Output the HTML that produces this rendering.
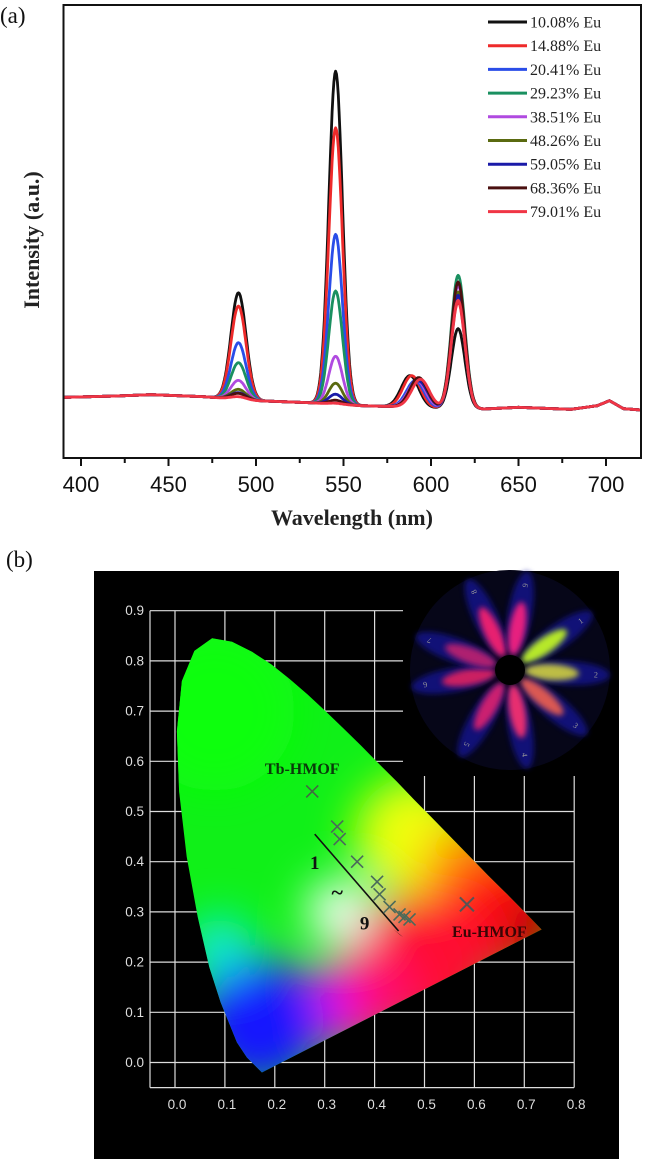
<!DOCTYPE html>
<html><head><meta charset="utf-8"><style>
html,body{margin:0;padding:0;background:#fff;width:648px;height:1159px;overflow:hidden}
svg{position:absolute;left:0;top:0}
</style></head><body>
<svg id="s" width="648" height="1159" xmlns="http://www.w3.org/2000/svg">
<defs>
<clipPath id="hs"><path id="hsp" d=""/></clipPath>
<filter id="bl" x="-50%" y="-50%" width="200%" height="200%"><feGaussianBlur stdDeviation="22"/></filter>
<filter id="bl2" x="-50%" y="-50%" width="200%" height="200%"><feGaussianBlur stdDeviation="3"/></filter>
</defs>
<text x="0" y="23" font-family="Liberation Serif, serif" font-size="23" fill="#111">(a)</text>
<g id="topg"></g>
<text x="6" y="567" font-family="Liberation Serif, serif" font-size="23" fill="#111">(b)</text>
<rect x="94" y="571" width="525" height="588" fill="#000"/>
<g id="botg"></g>
</svg>
<script>
const NS='http://www.w3.org/2000/svg';
function mk(p,t,a){const e=document.createElementNS(NS,t);for(const k in a)e.setAttribute(k,a[k]);p.appendChild(e);return e;}
// ---- Panel (a) data ----
const labels=['10.08% Eu','14.88% Eu','20.41% Eu','29.23% Eu','38.51% Eu','48.26% Eu','59.05% Eu','68.36% Eu','79.01% Eu'];
const colors=['#111111','#ee2a2a','#2a4de8','#1a9060','#b04ae0','#5a6a10','#1a1aa8','#4a1010','#f03545'];
const peak490=[32,28,17,11,5.7,3,2,1.8,0.8];
const peak545=[100,83,51,34,14.4,6.3,3,1.2,0.3];
const peak590=[9.5,9.5,8,8,8,8,8,9,8.5];
const center590=[588,589,591,592,592,593,593,593,594];
const peak615=[24,32,33,40,37,35,34,38,32.5];
const baseWl=[390,420,440,470,500,530,560,580,600,630,650,680,695,702,710,720];
const baseVal=[2,2.4,2.8,2.2,1,0.4,-0.5,-0.8,-1.2,-1.5,-1,-1.6,-0.5,1,-1.4,-1.8];
const xTicks=[400,450,500,550,600,650,700];
const X0=63.5,X1=641,Y0=5,Y1=458;
const xs=w=>X0+(w-390)*(X1-X0)/330;
const ys=v=>404-v*3.33;
const topG=document.getElementById('topg');
function base(w){for(let i=0;i<baseWl.length-1;i++){if(w<=baseWl[i+1]){const t=(w-baseWl[i])/(baseWl[i+1]-baseWl[i]);return baseVal[i]+t*(baseVal[i+1]-baseVal[i]);}}return baseVal[baseVal.length-1];}
const gs=(w,c,s)=>Math.exp(-0.5*((w-c)/s)**2);
for(let k=0;k<labels.length;k++){
  let d='';
  for(let w=390;w<=720;w+=0.5){
    const v=base(w)+peak490[k]*gs(w,490,4.3)+peak545[k]*gs(w,545.5,3.9)+peak590[k]*gs(w,center590[k],5)+peak615[k]*gs(w,615.5,3.9);
    d+=(d?'L':'M')+xs(w).toFixed(1)+' '+ys(v).toFixed(1);
  }
  const p=mk(topG,'path',{d:d,fill:'none',stroke:colors[k],'stroke-width':2.8,'stroke-linejoin':'round'});
  
  
}
const box=mk(topG,'rect',{x:X0,y:Y0,width:X1-X0,height:Y1-Y0,fill:'none',stroke:'#111','stroke-width':2});


for(let w=400;w<=700;w+=25){
  const tk=mk(topG,'line',{x1:xs(w),x2:xs(w),y1:Y1,y2:Y1+(w%50?5:8),stroke:'#111','stroke-width':2});
  
  
}
xTicks.forEach(w=>{
  const t=mk(topG,'text',{x:xs(w),y:492,'text-anchor':'middle','font-family':'Liberation Sans, sans-serif','font-size':22,fill:'#111'});
  t.textContent=w;
  
  
});
let tt=mk(topG,'text',{x:352,y:525,'text-anchor':'middle','font-family':'Liberation Serif, serif','font-size':22,'font-weight':'bold',fill:'#222'});
tt.textContent='Wavelength (nm)';


tt=mk(topG,'text',{x:0,y:0,'text-anchor':'middle','font-family':'Liberation Serif, serif','font-size':22,'font-weight':'bold',fill:'#222',transform:'translate(39,240) rotate(-90)'});
tt.textContent='Intensity (a.u.)';


for(let k=0;k<labels.length;k++){
  const y=22+k*23.7;
  const l=mk(topG,'line',{x1:488,x2:527,y1:y,y2:y,stroke:colors[k],'stroke-width':3});
  
  
  const tx=mk(topG,'text',{x:530,y:y+5.5,'font-family':'Liberation Serif, serif','font-size':16,fill:'#222'});
  tx.textContent=labels[k];
  
  
}
// ---- Panel (b) data ----
const gridX=[0.0,0.1,0.2,0.3,0.4,0.5,0.6,0.7,0.8];
const gridY=[0.0,0.1,0.2,0.3,0.4,0.5,0.6,0.7,0.8,0.9];
const locusX=[0.1741,0.144,0.124,0.0913,0.0687,0.0454,0.0235,0.0082,0.0039,0.0139,0.0389,0.0743,0.1142,0.1547,0.1929,0.2296,0.2658,0.3016,0.3373,0.3731,0.4087,0.4441,0.4788,0.5125,0.5448,0.5752,0.6029,0.627,0.6482,0.6658,0.6915,0.7347];
const locusY=[-0.02,0.01,0.04,0.12,0.19,0.29,0.41,0.54,0.66,0.76,0.82,0.845,0.838,0.818,0.793,0.764,0.733,0.70,0.666,0.631,0.595,0.56,0.524,0.49,0.457,0.426,0.398,0.373,0.352,0.335,0.309,0.265];
const ptX=[0.325,0.33,0.365,0.405,0.41,0.43,0.45,0.46,0.47];
const ptY=[0.47,0.445,0.40,0.36,0.335,0.31,0.295,0.29,0.285];
const tbPt=[0.275,0.54], euPt=[0.585,0.315];
const cx=v=>175+v*499;
const cy=v=>1062.5-v*502;
const botG=document.getElementById('botg');
let hd='';
for(let i=0;i<locusX.length;i++) hd+=(i?'L':'M')+cx(locusX[i]).toFixed(1)+' '+cy(locusY[i]).toFixed(1);
document.getElementById('hsp').setAttribute('d',hd+'Z');
gridY.forEach(v=>{
  const x2=v>=0.6?403:574;
  const l=mk(botG,'line',{x1:150,x2:x2,y1:cy(v),y2:cy(v),stroke:'#ddd','stroke-width':1.2});
  
  
  const tx=mk(botG,'text',{x:144,y:cy(v)+4.5,'text-anchor':'end','font-family':'Liberation Sans, sans-serif','font-size':13.5,fill:'#ddd'});
  tx.textContent=v.toFixed(1);
  
  
});
mk(botG,'line',{x1:150,x2:574,y1:cy(-0.05),y2:cy(-0.05),stroke:'#ddd','stroke-width':1.2});
mk(botG,'line',{x1:150,x2:150,y1:cy(0.9),y2:cy(-0.05),stroke:'#ddd','stroke-width':1.2});
gridX.forEach(v=>{
  const y1=v>=0.5?776:cy(0.9);
  const l=mk(botG,'line',{x1:cx(v),x2:cx(v),y1:y1,y2:cy(-0.05),stroke:'#ddd','stroke-width':1.2});
  
  
  const tx=mk(botG,'text',{x:cx(v)+2,y:1109,'text-anchor':'middle','font-family':'Liberation Sans, sans-serif','font-size':13.5,fill:'#ddd'});
  tx.textContent=v.toFixed(1);
  
  
});
const hg=mk(botG,'g',{'clip-path':'url(#hs)'});


mk(hg,'rect',{x:150,y:600,width:450,height:480,fill:'#10f018'});
const g2=mk(hg,'g',{filter:'url(#bl)'});
[[0.48,0.45,60,'#f0ff10'],[0.6,0.38,50,'#ff9000'],[0.66,0.3,60,'#ff1010'],[0.5,0.2,70,'#ff0a30'],[0.38,0.13,50,'#ff1070'],[0.29,0.11,35,'#e010ff'],[0.17,0.08,65,'#1818ff'],[0.09,0.23,30,'#10e8f0'],[0.33,0.3,32,'#ffffff'],[0.72,0.27,25,'#a00000'],[0.08,0.7,80,'#10ff10']].forEach(b=>{
  mk(g2,'circle',{cx:cx(b[0]),cy:cy(b[1]),r:b[2],fill:b[3]});
});
const ph=mk(botG,'g',{});


mk(ph,'circle',{cx:510,cy:670,r:100,fill:'#060618'});
const petals=[[-35,'#c8ff20'],[3,'#d0d040'],[40,'#f06050'],[80,'#ff3070'],[120,'#e02070'],[170,'#e02060'],[-160,'#c02070'],[-115,'#ff2070'],[-80,'#ff2080']];
petals.forEach((p,i)=>{
  const gg=mk(ph,'g',{transform:'translate(510 670) rotate('+p[0]+')'});
  mk(gg,'ellipse',{cx:58,cy:0,rx:42,ry:12,fill:'#1818a0',opacity:0.7,filter:'url(#bl2)'});
  mk(gg,'ellipse',{cx:42,cy:0,rx:27,ry:8,fill:p[1],opacity:0.9,filter:'url(#bl2)'});
  const n=mk(gg,'text',{x:84,y:3,'font-family':'Liberation Serif, serif','font-size':8,fill:'#999'});
  n.textContent=String(i+1);
});
mk(ph,'circle',{cx:510,cy:670,r:15,fill:'#000'});
const ar=mk(botG,'line',{x1:cx(0.28),y1:cy(0.455),x2:cx(0.448),y2:cy(0.262),stroke:'#111','stroke-width':1.6});


const ah=mk(botG,'polygon',{points:[cx(0.457),cy(0.25),cx(0.447)-5,cy(0.262)-2,cx(0.447)+2,cy(0.262)+4].join(' '),fill:'#111'});


function cross(x,y,s,c,w,nm){
  const gg=mk(botG,'g',{stroke:c,'stroke-width':w});
  
  
  mk(gg,'line',{x1:cx(x)-s,y1:cy(y)-s,x2:cx(x)+s,y2:cy(y)+s});
  mk(gg,'line',{x1:cx(x)-s,y1:cy(y)+s,x2:cx(x)+s,y2:cy(y)-s});
}
cross(tbPt[0],tbPt[1],6,'#446644',1.6,'tb-hmof-point');
for(let i=0;i<ptX.length;i++) cross(ptX[i],ptY[i],6,'#4a6a5a',1.6,'sample-point');
cross(euPt[0],euPt[1],7,'#555',2,'eu-hmof-point');
function lab(x,y,s,sz,c,nm){
  const tx=mk(botG,'text',{x:cx(x),y:cy(y),'text-anchor':'middle','font-family':'Liberation Serif, serif','font-size':sz,'font-weight':'bold',fill:c});
  tx.textContent=s;
  
  
}
lab(0.255,0.575,'Tb-HMOF',16,'#0a3a0a','tb-hmof-label');
lab(0.63,0.25,'Eu-HMOF',16,'#3a0505','eu-hmof-label');
lab(0.28,0.385,'1',19,'#111','label-1');
lab(0.325,0.325,'~',22,'#111','label-tilde');
lab(0.38,0.265,'9',19,'#111','label-9');
</script>
</body></html>
